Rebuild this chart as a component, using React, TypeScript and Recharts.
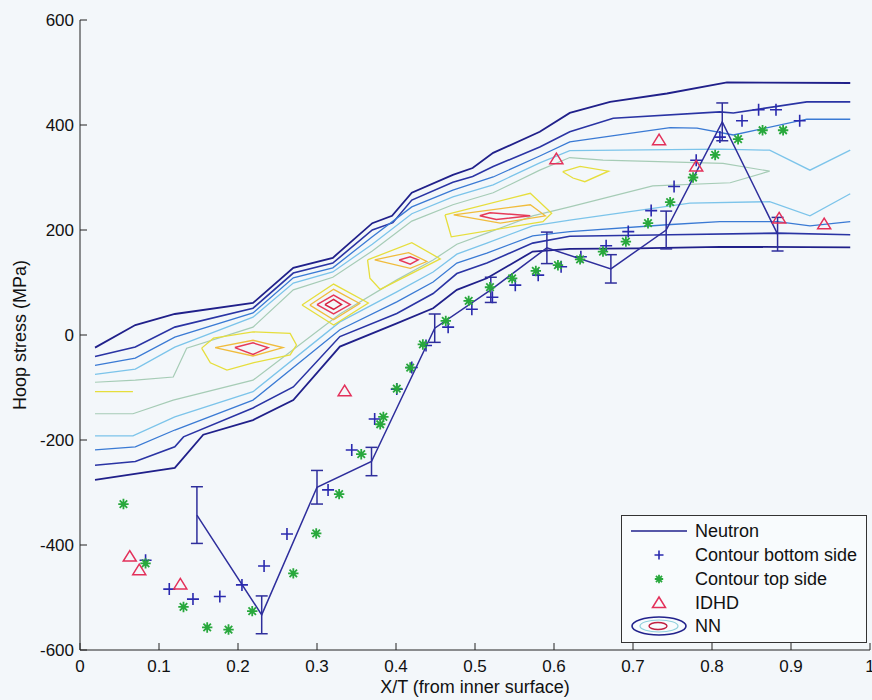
import React from "react";
import { ComposedChart, Line, Scatter, XAxis, YAxis, ErrorBar, Legend } from "recharts";

const FONT = "'Liberation Sans', Arial, Helvetica, sans-serif";

const xTicks = [0, 0.1, 0.2, 0.3, 0.4, 0.5, 0.6, 0.7, 0.8, 0.9, 1];
const yTicks = [-600, -400, -200, 0, 200, 400, 600];
const seriesNames = ["Neutron", "Contour bottom side", "Contour top side", "IDHD", "NN"];

// neutron diffraction with error bars
const neutronX = [0.148, 0.23, 0.3, 0.369, 0.449, 0.52, 0.591, 0.672, 0.742, 0.813, 0.883];
const neutronY = [-343, -533, -290, -241, 13, 86, 166, 126, 200, 406, 192];
const neutronErr = [54, 36, 32, 27, 27, 24, 30, 27, 36, 36, 32];

// contour method, bottom side (+)
const bottomX = [0.083, 0.113, 0.143, 0.177, 0.205, 0.233, 0.262, 0.314, 0.344, 0.373, 0.401, 0.42, 0.438, 0.466, 0.496, 0.522, 0.551, 0.58, 0.609, 0.634, 0.666, 0.694, 0.723, 0.752, 0.78, 0.81, 0.838, 0.859, 0.881, 0.911];
const bottomY = [-429, -484, -503, -498, -476, -440, -379, -295, -219, -160, -103, -62, -20, 15, 49, 72, 95, 114, 130, 149, 170, 197, 237, 283, 333, 377, 408, 429, 429, 408];

// contour method, top side (*)
const topX = [0.055, 0.083, 0.131, 0.161, 0.188, 0.218, 0.27, 0.299, 0.328, 0.356, 0.38, 0.384, 0.401, 0.418, 0.434, 0.463, 0.492, 0.519, 0.547, 0.577, 0.605, 0.633, 0.662, 0.691, 0.719, 0.747, 0.776, 0.804, 0.833, 0.864, 0.89];
const topY = [-322, -435, -518, -557, -561, -526, -454, -378, -303, -227, -170, -156, -102, -62, -18, 27, 65, 91, 108, 122, 133, 144, 159, 178, 213, 253, 300, 343, 373, 390, 390];

// IDHD (triangles)
const idhdX = [0.063, 0.075, 0.127, 0.335, 0.603, 0.733, 0.78, 0.885, 0.942];
const idhdY = [-422, -448, -475, -107, 335, 371, 321, 222, 211];

// NN contour lines [x, y]
const nnT1 = [[0.019, -24], [0.07, 19], [0.12, 40], [0.219, 61], [0.27, 128], [0.32, 147], [0.37, 213], [0.395, 227], [0.42, 271], [0.472, 305], [0.497, 318], [0.523, 347], [0.582, 387], [0.62, 423], [0.671, 444], [0.743, 460], [0.819, 481], [0.975, 480]];
const nnT2 = [[0.019, -41], [0.07, -23], [0.12, 15], [0.219, 51], [0.27, 118], [0.32, 137], [0.37, 200], [0.396, 214], [0.42, 257], [0.472, 291], [0.497, 302], [0.523, 321], [0.582, 358], [0.62, 387], [0.675, 413], [0.81, 425], [0.827, 423], [0.92, 444], [0.975, 444]];
const nnT3 = [[0.019, -58], [0.07, -44], [0.12, -4], [0.219, 42], [0.27, 109], [0.32, 128], [0.37, 187], [0.42, 244], [0.472, 276], [0.523, 301], [0.582, 341], [0.62, 368], [0.747, 395], [0.781, 394], [0.827, 381], [0.92, 411], [0.975, 411]];
const nnT4 = [[0.019, -75], [0.07, -65], [0.12, -23], [0.219, 34], [0.27, 99], [0.32, 120], [0.37, 173], [0.42, 231], [0.472, 263], [0.523, 286], [0.582, 328], [0.62, 351], [0.81, 354], [0.873, 352], [0.924, 314], [0.975, 352]];
const nnMid = [[0.019, -90], [0.07, -86], [0.118, -80], [0.135, -25], [0.219, 15], [0.27, 86], [0.32, 110], [0.37, 160], [0.42, 217], [0.472, 248], [0.523, 271], [0.582, 314], [0.62, 338], [0.662, 333], [0.814, 327], [0.873, 312], [0.823, 290], [0.725, 284], [0.62, 244], [0.573, 227], [0.515, 194], [0.477, 173], [0.447, 143], [0.401, 105], [0.329, 40], [0.219, -86], [0.118, -124], [0.067, -150], [0.019, -150]];
const nnB4 = [[0.019, -192], [0.067, -192], [0.12, -156], [0.219, -108], [0.329, 25], [0.401, 82], [0.447, 120], [0.477, 154], [0.515, 175], [0.573, 208], [0.62, 219], [0.772, 251], [0.873, 254], [0.924, 227], [0.975, 269]];
const nnB3 = [[0.019, -219], [0.07, -213], [0.12, -181], [0.219, -124], [0.329, 10], [0.401, 63], [0.447, 101], [0.477, 137], [0.515, 156], [0.573, 189], [0.62, 197], [0.743, 210], [0.81, 216], [0.883, 216], [0.924, 208], [0.975, 216]];
const nnB2 = [[0.019, -248], [0.07, -241], [0.12, -213], [0.131, -194], [0.219, -139], [0.27, -99], [0.329, -3], [0.401, 41], [0.447, 79], [0.477, 117], [0.515, 137], [0.573, 175], [0.62, 188], [0.747, 191], [0.883, 194], [0.975, 191]];
const nnB1 = [[0.019, -276], [0.12, -253], [0.156, -190], [0.219, -162], [0.27, -124], [0.329, -22], [0.401, 22], [0.447, 51], [0.477, 86], [0.515, 108], [0.573, 159], [0.62, 164], [0.705, 165], [0.81, 168], [0.975, 167]];
const nnStub = [[0.019, -108], [0.067, -108]];

const nnPeak1 = [[0.154, -25], [0.169, -6], [0.219, 6], [0.266, 3], [0.274, -19], [0.266, -38], [0.219, -53], [0.186, -67], [0.165, -53], [0.154, -25]];
const nnPeak1b = [[0.171, -24], [0.219, -10], [0.257, -24], [0.219, -40], [0.171, -24]];
const nnPeak1c = [[0.196, -24], [0.219, -15], [0.238, -24], [0.219, -37], [0.196, -24]];
const nnPeak2 = [[0.281, 57], [0.321, 97], [0.365, 61], [0.321, 19], [0.281, 57]];
const nnPeak2b = [[0.291, 57], [0.321, 87], [0.354, 60], [0.321, 29], [0.291, 57]];
const nnPeak2c = [[0.3, 58], [0.321, 76], [0.342, 58], [0.321, 40], [0.3, 58]];
const nnPeak2d = [[0.31, 58], [0.321, 68], [0.331, 58], [0.321, 49], [0.31, 58]];
const nnPeak3 = [[0.364, 143], [0.42, 176], [0.456, 145], [0.38, 87], [0.367, 108], [0.364, 143]];
const nnPeak3b = [[0.373, 143], [0.416, 157], [0.439, 140], [0.418, 127], [0.373, 143]];
const nnPeak3c = [[0.404, 143], [0.418, 149], [0.428, 143], [0.418, 135], [0.404, 143]];
const nnPeak4 = [[0.462, 229], [0.57, 270], [0.597, 232], [0.586, 216], [0.47, 187], [0.462, 229]];
const nnPeak4b = [[0.473, 229], [0.57, 248], [0.589, 227], [0.532, 213], [0.473, 229]];
const nnPeak4c = [[0.506, 227], [0.519, 233], [0.57, 227], [0.527, 220], [0.506, 227]];
const nnPeak5 = [[0.611, 311], [0.633, 321], [0.669, 312], [0.639, 292], [0.624, 299], [0.611, 311]];

const NAVY = "#22228c";
const BLUE = "#2a2aae";
const GREEN = "#28a83c";
const RED = "#e3305a";

const zip = (xs: number[], ys: number[]) => xs.map((x, i) => ({ x, y: ys[i] }));
const pts = (arr: number[][]) => arr.map(([x, y]) => ({ x, y }));

const neutron = neutronX.map((x, i) => ({ x, y: neutronY[i], err: neutronErr[i] }));

const contours = [
  { id: "t1", data: nnT1, color: "#20208a", w: 1.8 },
  { id: "t2", data: nnT2, color: "#2a34a4", w: 1.6 },
  { id: "t3", data: nnT3, color: "#3a7ad4", w: 1.3 },
  { id: "t4", data: nnT4, color: "#7cc4ea", w: 1.3 },
  { id: "mid", data: nnMid, color: "#a6ccb6", w: 1.2 },
  { id: "b4", data: nnB4, color: "#7cc4ea", w: 1.3 },
  { id: "b3", data: nnB3, color: "#3a7ad4", w: 1.3 },
  { id: "b2", data: nnB2, color: "#2a34a4", w: 1.6 },
  { id: "b1", data: nnB1, color: "#20208a", w: 1.8 },
  { id: "stub", data: nnStub, color: "#e6de3c", w: 1.3 },
  { id: "p1", data: nnPeak1, color: "#e6de3c", w: 1.3 },
  { id: "p1b", data: nnPeak1b, color: "#f0bc3c", w: 1.3 },
  { id: "p1c", data: nnPeak1c, color: "#e63a58", w: 1.5 },
  { id: "p2", data: nnPeak2, color: "#e6de3c", w: 1.3 },
  { id: "p2b", data: nnPeak2b, color: "#f0bc3c", w: 1.3 },
  { id: "p2c", data: nnPeak2c, color: "#e63a58", w: 1.5 },
  { id: "p2d", data: nnPeak2d, color: "#d82040", w: 1.5 },
  { id: "p3", data: nnPeak3, color: "#e6de3c", w: 1.3 },
  { id: "p3b", data: nnPeak3b, color: "#f0bc3c", w: 1.3 },
  { id: "p3c", data: nnPeak3c, color: "#e63a58", w: 1.5 },
  { id: "p4", data: nnPeak4, color: "#e6de3c", w: 1.3 },
  { id: "p4b", data: nnPeak4b, color: "#f0bc3c", w: 1.3 },
  { id: "p4c", data: nnPeak4c, color: "#e63a58", w: 1.5 },
  { id: "p5", data: nnPeak5, color: "#e6de3c", w: 1.3 },
];

const PlusMark = (props: any) => {
  const { cx, cy } = props;
  const r = props.r ?? 6;
  return <path d={`M${cx - r},${cy}H${cx + r}M${cx},${cy - r}V${cy + r}`} stroke={BLUE} strokeWidth={1.6} fill="none" />;
};

const StarMark = (props: any) => {
  const { cx, cy } = props;
  const r = props.r ?? 5.2;
  const d = r * 0.72;
  return (
    <path
      d={`M${cx - r},${cy}H${cx + r}M${cx},${cy - r}V${cy + r}M${cx - d},${cy - d}L${cx + d},${cy + d}M${cx - d},${cy + d}L${cx + d},${cy - d}`}
      stroke={GREEN}
      strokeWidth={1.8}
      fill="none"
    />
  );
};

const TriMark = (props: any) => {
  const { cx, cy } = props;
  return <path d={`M${cx},${cy - 6}L${cx + 6.5},${cy + 4.5}L${cx - 6.5},${cy + 4.5}Z`} stroke={RED} strokeWidth={1.5} fill="none" />;
};

const YTitle = (props: any) => {
  const vb = props.viewBox || { x: 0, y: 20, width: 80, height: 630 };
  const cx = vb.x + 20;
  const cy = vb.y + vb.height / 2;
  return (
    <text x={cx} y={cy} transform={`rotate(-90 ${cx} ${cy})`} textAnchor="middle" dominantBaseline="central" fontSize={18} fontFamily={FONT} fill="#111">
      Hoop stress (MPa)
    </text>
  );
};

const LegendBox = () => {
  const rowY = [16, 40, 64, 88, 111];
  return (
    <svg width={247} height={129} style={{ display: "block" }}>
      <rect x={0.5} y={0.5} width={245} height={127} fill="#f8fbfd" stroke="#333" strokeWidth={1} />
      <line x1={10} x2={66} y1={rowY[0]} y2={rowY[0]} stroke={NAVY} strokeWidth={1.5} />
      <PlusMark cx={38} cy={rowY[1]} r={4.5} />
      <StarMark cx={38} cy={rowY[2]} r={4.2} />
      <TriMark cx={38} cy={rowY[3]} />
      <ellipse cx={38} cy={rowY[4]} rx={27} ry={9} fill="none" stroke={NAVY} strokeWidth={1.6} />
      <ellipse cx={38} cy={rowY[4]} rx={19} ry={6} fill="none" stroke="#8fd0dc" strokeWidth={1.2} />
      <ellipse cx={37} cy={rowY[4]} rx={9} ry={3.5} fill="none" stroke="#c02040" strokeWidth={1.4} />
      {seriesNames.map((n, i) => (
        <text key={n} x={74} y={rowY[i]} dominantBaseline="central" fontSize={18} fontFamily={FONT} fill="#111">
          {n}
        </text>
      ))}
    </svg>
  );
};

export default function App() {
  return (
    <div style={{ position: "absolute", left: 0, top: 0, width: 872, height: 700, background: "#f3f7fa", fontFamily: FONT }}>
      <ComposedChart width={872} height={700} margin={{ top: 20, right: 2, bottom: 0, left: 0 }}>
        <XAxis
          type="number"
          dataKey="x"
          domain={[0, 1]}
          ticks={xTicks}
          interval={0}
          allowDataOverflow
          height={50}
          tickSize={-7}
          tickMargin={17}
          stroke="#222"
          tick={{ fontSize: 17, fill: "#111", fontFamily: FONT }}
          label={{ value: "X/T (from inner surface)", position: "insideBottom", offset: 7, fontSize: 18, fill: "#111", fontFamily: FONT }}
        />
        <YAxis
          type="number"
          dataKey="y"
          domain={[-600, 600]}
          ticks={yTicks}
          interval={0}
          allowDataOverflow
          width={80}
          tickSize={-7}
          tickMargin={13}
          stroke="#222"
          tick={{ fontSize: 17, fill: "#111", fontFamily: FONT }}
          label={<YTitle />}
        />
        {contours.map((c) => (
          <Line
            key={c.id}
            data={pts(c.data)}
            dataKey="y"
            type="linear"
            stroke={c.color}
            strokeWidth={c.w}
            dot={false}
            activeDot={false}
            legendType="none"
            isAnimationActive={false}
          />
        ))}
        <Line data={neutron} dataKey="y" type="linear" stroke="#2e2e9c" strokeWidth={1.5} dot={false} activeDot={false} isAnimationActive={false}>
          <ErrorBar dataKey="err" direction="y" width={6} stroke="#2e2e9c" strokeWidth={1.5} />
        </Line>
        <Scatter data={zip(bottomX, bottomY)} dataKey="y" shape={PlusMark} isAnimationActive={false} />
        <Scatter data={zip(topX, topY)} dataKey="y" shape={StarMark} isAnimationActive={false} />
        <Scatter data={zip(idhdX, idhdY)} dataKey="y" shape={TriMark} isAnimationActive={false} />
        <Legend
          layout="horizontal"
          verticalAlign="middle"
          align="center"
          content={<LegendBox />}
          wrapperStyle={{ position: "absolute", left: 621, top: 515, width: 247, height: 129 }}
        />
      </ComposedChart>
    </div>
  );
}
